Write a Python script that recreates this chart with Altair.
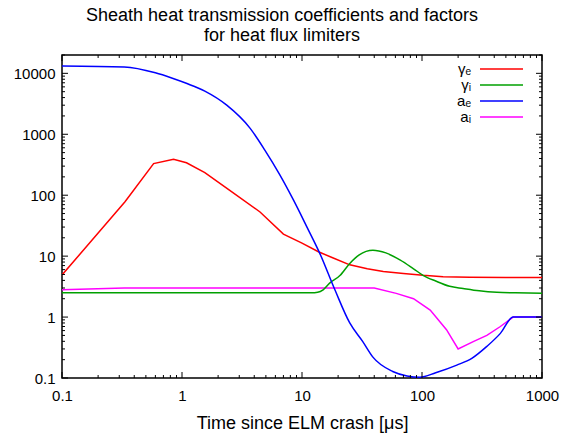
import altair as alt
import pandas as pd

# ---------------- data ----------------
title_lines = ["Sheath heat transmission coefficients and factors", "for heat flux limiters"]
x_title = "Time since ELM crash [μs]"

series_names = ["γe", "γi", "ae", "ai"]
legend_labels = ["γₑ", "γᵢ", "aₑ", "aᵢ"]
series_colors = ["#ff0000", "#00a000", "#0000ff", "#ff00ff"]
smooth_series = ["γi", "ae"]

ge_t = [0.1, 0.335, 0.58, 0.85, 1.09, 1.55, 2.5, 4.47, 7.0, 10, 13.7, 18, 25, 35, 47.6, 70, 102, 150, 250, 500, 1000]
ge_v = [4.9, 78, 330, 390, 340, 235, 120, 53, 23, 16.4, 11.8, 9.4, 7.2, 6.2, 5.6, 5.2, 4.85, 4.6, 4.5, 4.45, 4.45]

gi_t = [0.1, 12, 13.5, 15, 17, 20.7, 25, 30, 39, 50, 66, 85, 102, 130, 170, 220, 300, 420, 600, 1000]
gi_v = [2.5, 2.5, 2.55, 2.8, 3.6, 4.8, 7.6, 10.5, 12.5, 11.3, 8.6, 6.2, 4.85, 3.9, 3.2, 2.95, 2.7, 2.55, 2.5, 2.45]

ae_t = [0.1, 0.33, 0.6, 0.82, 1.1, 1.55, 2.36, 3.7, 4.9, 6.5, 8.5, 11, 14.1, 18.8, 25, 32, 39, 57, 75, 96, 130, 195, 260, 347, 450, 575, 1000]
ae_v = [13200, 12700, 10200, 8400, 6800, 5100, 3000, 1250, 550, 220, 83, 30, 11, 2.8, 0.8, 0.4, 0.22, 0.128, 0.108, 0.103, 0.122, 0.163, 0.21, 0.33, 0.54, 1.0, 1.0]

ai_t = [0.1, 0.33, 40, 61, 85, 117, 160, 200, 270, 347, 450, 575, 1000]
ai_v = [2.8, 3.0, 3.0, 2.45, 2.0, 1.3, 0.62, 0.3, 0.4, 0.5, 0.7, 1.0, 1.0]

x_major = [0.1, 1, 10, 100, 1000]
y_major = [0.1, 1, 10, 100, 1000, 10000]
x_minor = [m * 10 ** e for e in range(-1, 3) for m in range(2, 10)]
y_minor = [m * 10 ** e for e in range(-1, 4) for m in range(2, 10)] + [20000]

FONT = "Liberation Sans"
W, H = 480, 323
MAJOR, MINOR = 6, 3

rows = []
for name, ts, vs in zip(series_names, [ge_t, gi_t, ae_t, ai_t], [ge_v, gi_v, ae_v, ai_v]):
    for t, v in zip(ts, vs):
        rows.append({"series": name, "t": t, "v": v})
df = pd.DataFrame(rows)
df_smooth = df[df["series"].isin(smooth_series)]
df_lin = df[~df["series"].isin(smooth_series)]

leg_df = pd.DataFrame({"series": series_names, "label": legend_labels,
                       "row": list(range(len(series_names)))})

xs = alt.Scale(type="log", domain=[0.1, 1000], nice=False)
ys = alt.Scale(type="log", domain=[0.1, 20000], nice=False)
cs = alt.Scale(domain=series_names, range=series_colors)

x_axis = alt.Axis(values=x_major, format="~g", ticks=False, domain=False, grid=False,
                  labelPadding=10, labelFlush=False, title=x_title, titlePadding=11,
                  labelFontSize=15, titleFontSize=18)
y_axis = alt.Axis(values=y_major, format="~g", ticks=False, domain=False, grid=False,
                  labelPadding=7, title="", labelFontSize=15)


def curve(data, interp):
    return alt.Chart(data).mark_line(strokeWidth=1.5, clip=True, interpolate=interp).encode(
        x=alt.X("t:Q", scale=xs, axis=x_axis),
        y=alt.Y("v:Q", scale=ys, axis=y_axis),
        color=alt.Color("series:N", scale=cs, legend=None),
        order=alt.Order("t:Q"),
    )


def xticks(vals, size, top):
    d = pd.DataFrame({"tv": vals})
    y0 = 0 if top else H
    y1 = size if top else H - size
    return alt.Chart(d).mark_rule(color="black", strokeWidth=1).encode(
        x=alt.X("tv:Q", scale=xs, axis=x_axis), y=alt.value(y0), y2=alt.value(y1))


def yticks(vals, size, right):
    d = pd.DataFrame({"tv": vals})
    x0 = W if right else 0
    x1 = W - size if right else size
    return alt.Chart(d).mark_rule(color="black", strokeWidth=1).encode(
        y=alt.Y("tv:Q", scale=ys, axis=y_axis), x=alt.value(x0), x2=alt.value(x1))


inner = alt.layer(
    curve(df_lin, "linear"),
    curve(df_smooth, "monotone"),
    xticks(x_major, MAJOR, False), xticks(x_minor, MINOR, False),
    xticks(x_major, MAJOR, True), xticks(x_minor, MINOR, True),
    yticks(y_major, MAJOR, False), yticks(y_minor, MINOR, False),
    yticks(y_major, MAJOR, True), yticks(y_minor, MINOR, True),
)

ly = alt.Y("row:Q", scale=alt.Scale(domain=[0, 3], range=[14, 62]), axis=None)

leg_rule = alt.Chart(leg_df).mark_rule(strokeWidth=1.5).encode(
    x=alt.value(418), x2=alt.value(461), y=ly,
    color=alt.Color("series:N", scale=cs, legend=None),
)
leg_text = alt.Chart(leg_df).mark_text(align="right", baseline="middle", fontSize=15,
                                       font=FONT, color="black").encode(
    x=alt.value(409), y=ly, text="label:N")

chart = alt.layer(inner, leg_rule, leg_text).resolve_scale(y="independent").properties(
    width=W, height=H,
    autosize=alt.AutoSizeParams(type="none"),
    padding={"left": 62, "top": 55, "right": 21, "bottom": 58},
    title=alt.TitleParams(text=title_lines, fontSize=18, fontWeight="normal", font=FONT,
                          anchor="middle", dx=-20, offset=10, color="black", lineHeight=20),
).configure_view(stroke="black", strokeWidth=1.5).configure_axis(
    labelFont=FONT, titleFont=FONT, labelColor="black", titleColor="black", titleFontWeight="normal"
)

chart.save("out.html", embed_options={"renderer": "svg", "actions": False})
